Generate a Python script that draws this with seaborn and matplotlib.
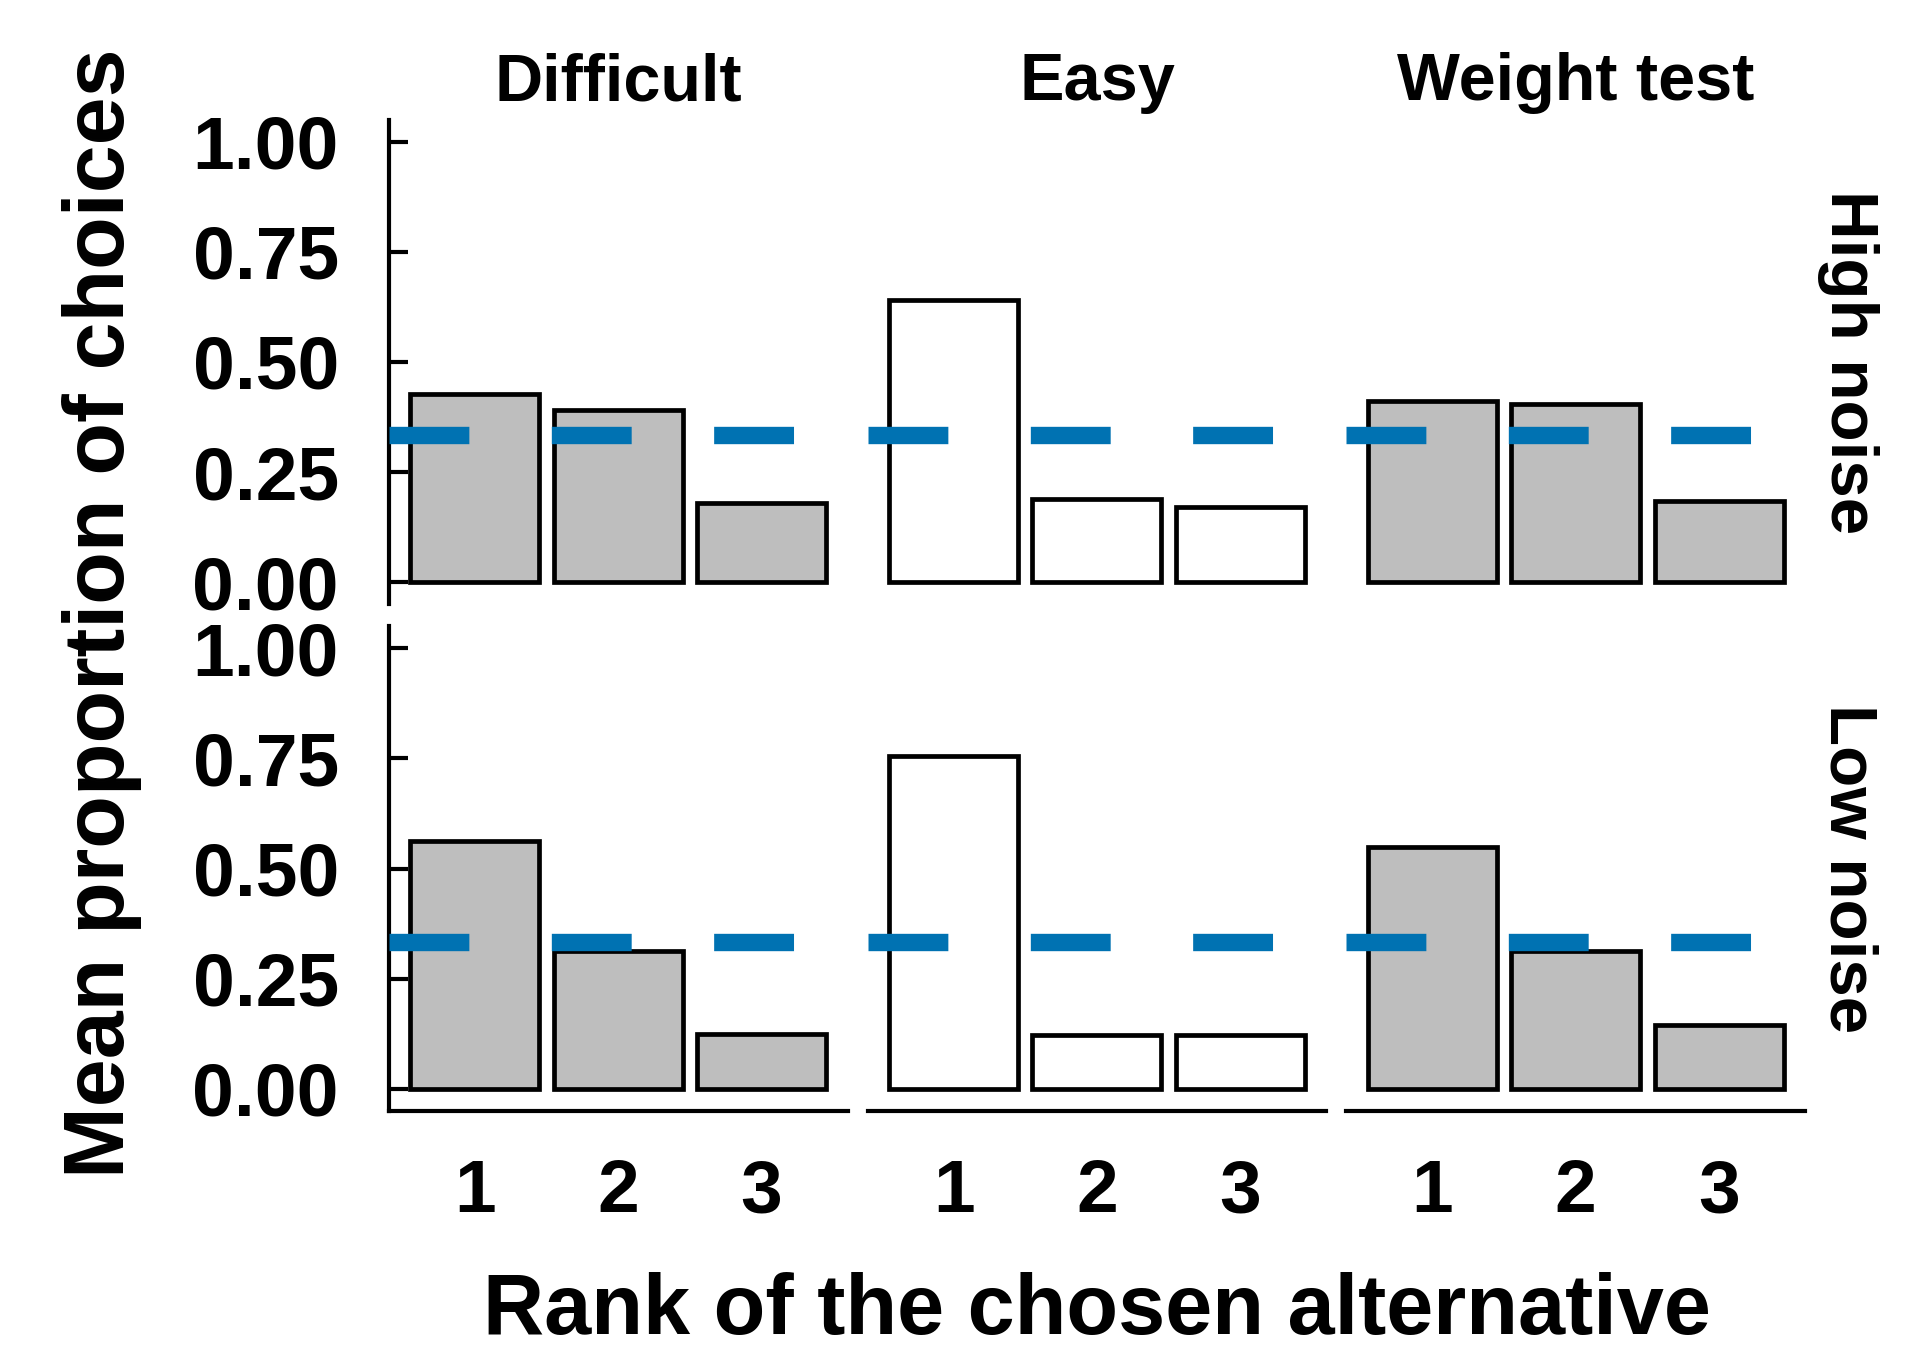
import matplotlib
matplotlib.use("Agg")
import matplotlib.pyplot as plt
import seaborn as sns
import pandas as pd

# ---- data ----
tasks = ["Difficult", "Easy", "Weight test"]
noises = ["High noise", "Low noise"]
ranks = [1, 2, 3]
high_difficult = [0.428, 0.392, 0.180]
high_easy = [0.640, 0.188, 0.170]
high_weight = [0.411, 0.405, 0.184]
low_difficult = [0.562, 0.313, 0.124]
low_easy = [0.755, 0.123, 0.123]
low_weight = [0.548, 0.314, 0.146]
chance = 1 / 3
yticks = [0.00, 0.25, 0.50, 0.75, 1.00]
ytick_labels = ["0.00", "0.25", "0.50", "0.75", "1.00"]

task_colors = {"Difficult": "#BEBEBE", "Easy": "#FFFFFF", "Weight test": "#BEBEBE"}

rows = []
for noise, series in [("High noise", [high_difficult, high_easy, high_weight]),
                      ("Low noise", [low_difficult, low_easy, low_weight])]:
    for task, vals in zip(tasks, series):
        for r, v in zip(ranks, vals):
            rows.append({"noise": noise, "task": task, "rank": r, "prop": v})
df = pd.DataFrame(rows)

sns.set_theme(style="white")
plt.rcParams["font.family"] = ["Liberation Sans", "DejaVu Sans"]
plt.rcParams["font.weight"] = "bold"
plt.rcParams["text.color"] = "black"
plt.rcParams["axes.labelcolor"] = "black"
plt.rcParams["xtick.color"] = "black"
plt.rcParams["ytick.color"] = "black"

g = sns.catplot(
    data=df, x="rank", y="prop", col="task", row="noise",
    col_order=tasks, row_order=noises, order=ranks,
    hue="task", hue_order=tasks, palette=task_colors, dodge=False,
    kind="bar", errorbar=None, width=0.9, legend=False,
    edgecolor="black", linewidth=3.4,
    sharex=True, sharey=True, height=4, aspect=1,
)
fig = g.figure
fig.set_size_inches(19.32, 13.52)
fig.subplots_adjust(left=0.2013, right=0.9343, top=0.9116, bottom=0.1783,
                    wspace=0.0436, hspace=0.045)

g.set_titles("")
for i, noise in enumerate(noises):
    for j, task in enumerate(tasks):
        ax = g.axes[i, j]
        ax.set_title("")
        ax.axhline(chance, color="#0072B2", lw=12.5, ls=(0, (4.6, 4.75)),
                   dash_capstyle="butt", zorder=5)
        ax.set_ylim(-0.05, 1.05)
        ax.set_xlim(-0.6, 2.6)
        ax.set_xlabel("")
        ax.set_ylabel("")
        for s in ["top", "right", "left", "bottom"]:
            ax.spines[s].set_visible(False)
        ax.set_yticks(yticks)
        if j == 0:
            ax.spines["left"].set_visible(True)
            ax.spines["left"].set_linewidth(3.0)
            ax.spines["left"].set_color("black")
            ax.set_yticklabels(ytick_labels, fontsize=54, fontweight="bold",
                               color="black")
            ax.tick_params(axis="y", direction="in", length=14, width=3.0,
                           color="black", pad=36, left=True)
        else:
            ax.tick_params(axis="y", left=False, labelleft=False)
        if i == 1:
            ax.spines["bottom"].set_visible(True)
            ax.spines["bottom"].set_linewidth(3.0)
            ax.spines["bottom"].set_color("black")
            ax.set_xticks([0, 1, 2])
            ax.set_xticklabels([str(r) for r in ranks], fontsize=54,
                               fontweight="bold", color="black")
            ax.tick_params(axis="x", length=0, pad=34, bottom=True, labelbottom=True)
        else:
            ax.tick_params(axis="x", length=0, labelbottom=False)
        if i == 0:
            ax.set_title(task, fontsize=48, fontweight="bold", pad=14, color="black")
        if j == 2:
            ax.text(1.025, 0.5, noise, transform=ax.transAxes, rotation=270,
                    ha="left", va="center", fontsize=48.5, fontweight="bold",
                    color="black")
        ax.patch.set_alpha(0)

fig.text(0.5679, 0.013, "Rank of the chosen alternative", ha="center",
         va="baseline", fontsize=61, fontweight="bold", color="black")
fig.text(0.053, 0.5466, "Mean proportion of choices", ha="center", va="center",
         rotation=90, fontsize=62, fontweight="bold", color="black")

fig.savefig("out.png", dpi=100, facecolor="white")
